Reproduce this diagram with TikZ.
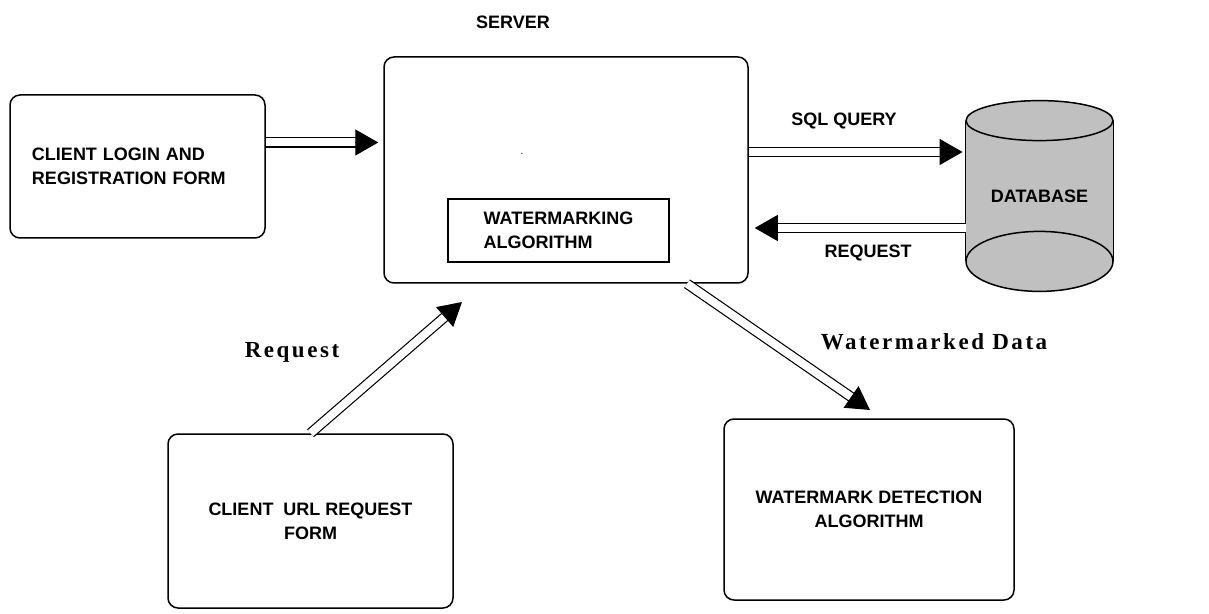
\documentclass[tikz,border=0pt]{standalone}
\usepackage{fontspec}
\setmainfont{Liberation Sans}
\newfontfamily\labelserif[LetterSpace=11]{Liberation Serif}
\usepackage{tikz}
\usetikzlibrary{arrows.meta,calc,backgrounds}
\definecolor{dbgray}{RGB}{192,192,192}

\newcommand\dblarrow[2]{%
  \draw[pipe] (#1) -- ($(#2)!10pt!(#1)$);
  \draw[pipehead] ($(#2)!11.5pt!(#1)$) -- (#2);}

\begin{document}
\begin{tikzpicture}[x=0.5pt,y=-0.5pt,
    capsfont/.style={font=\bfseries\fontsize{9}{12}\selectfont},
    flowbox/.style={draw,line width=0.75pt,rounded corners=5pt,capsfont},
    pipe/.style={double,double distance=4pt,line width=0.6pt},
    pipehead/.style={-{Triangle[length=11.5pt,width=13pt]},line width=0.6pt},
    seriflabel/.style={font=\labelserif\bfseries\fontsize{11.5}{13}\selectfont}]
  \useasboundingbox (0,0) rectangle (1209,614);

  \node[capsfont] (srvlabel) at (513,22) {SERVER};
  \node[flowbox,minimum width=182pt,minimum height=113pt] (server) at (566,170) {};
  \node[font=\tiny,inner sep=0pt] (dot) at (522,154) {.};
  \node[draw,line width=0.75pt,capsfont,align=left,minimum width=110.5pt,minimum height=31.5pt] (wmalg) at (558.5,230.5) {WATERMARKING\\ALGORITHM};

  \node[flowbox,text width=105.5pt,inner xsep=11pt,minimum height=71.5pt,align=left] (login) at (137.5,166.5) {CLIENT LOGIN AND\\REGISTRATION FORM};
  \node[flowbox,minimum width=142.5pt,minimum height=87pt,align=center] (url) at (310.5,521) {CLIENT\ \ URL REQUEST\\FORM};
  \node[flowbox,minimum width=145pt,minimum height=90.5pt,align=center] (detect) at (869,509.5) {WATERMARK DETECTION\\ALGORITHM};

  % database cylinder
  \node[capsfont,minimum width=73.5pt,minimum height=95pt] (db) at (1039.5,196) {DATABASE};
  \coordinate (dbtop) at ([yshift=-10pt]db.north);
  \coordinate (dbbot) at ([yshift=15pt]db.south);
  \begin{scope}[on background layer]
    \fill[dbgray] (dbtop -| db.west) rectangle (dbbot -| db.east);
    \filldraw[fill=dbgray,line width=0.75pt] (dbbot) ellipse [x radius=36.75pt,y radius=15pt];
    \filldraw[fill=dbgray,line width=0.75pt] (dbtop) ellipse [x radius=36.75pt,y radius=10pt];
    \draw[line width=0.75pt] (dbtop -| db.west) -- (dbbot -| db.west) (dbtop -| db.east) -- (dbbot -| db.east);
  \end{scope}

  % connectors
  \coordinate (lgout) at ([yshift=12pt]login.east);
  \coordinate (lgin) at ($(lgout -| server.west)+(-5,0)$);
  \dblarrow{lgout}{lgin}
  \coordinate (sqlout) at ([yshift=9pt]server.east);
  \coordinate (sqlin) at ($(sqlout -| db.west)+(-3,0)$);
  \dblarrow{sqlout}{sqlin}
  \coordinate (reqout) at ([yshift=-16pt]db.west);
  \coordinate (reqin) at ($(reqout -| server.east)+(6,0)$);
  \dblarrow{reqout}{reqin}
  \coordinate (reqtip) at (462,302);
  \dblarrow{url.north}{reqtip}
  \coordinate (wmout) at ([xshift=60.5pt]server.south);
  \coordinate (wmtip) at (870,410);
  \dblarrow{wmout}{wmtip}

  \node[capsfont] (sqllabel) at (844,121) {SQL QUERY};
  \node[capsfont] (reqlabel) at (868,253) {REQUEST};
  \node[seriflabel] (urlreq) at (292,352) {Request};
  \node[seriflabel] (wmdata) at (934,342) {Watermarked Data};
\end{tikzpicture}
\end{document}
